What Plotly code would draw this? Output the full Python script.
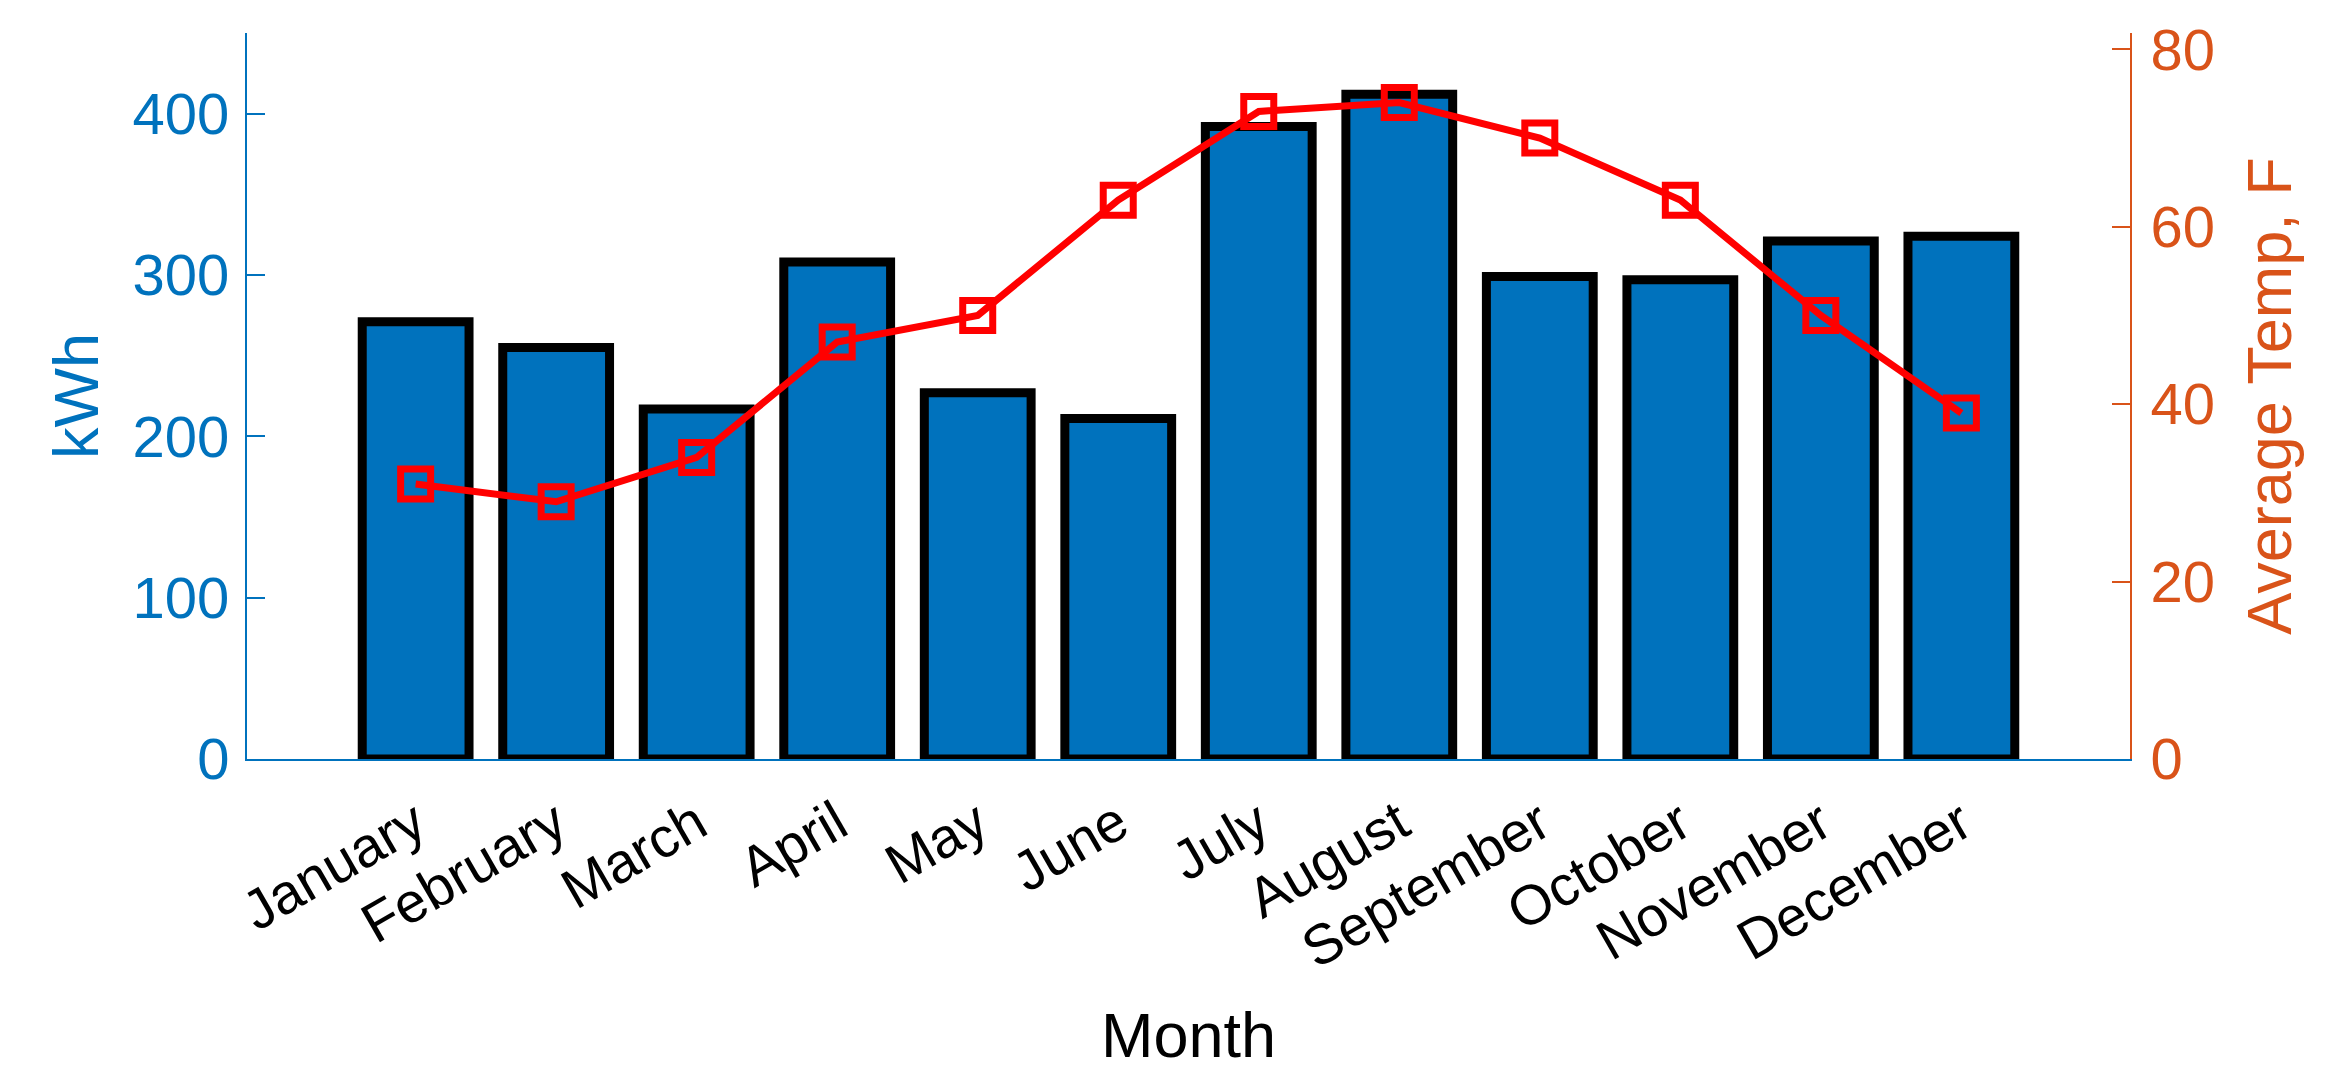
import plotly.graph_objects as go

months = ["January", "February", "March", "April", "May", "June",
          "July", "August", "September", "October", "November", "December"]
kwh = [271, 255, 217, 308, 227, 211, 392, 412, 299, 297, 321, 324]
temp_f = [31, 29, 34, 47, 50, 63, 73, 74, 70, 63, 50, 39]

left_ticks = [0, 100, 200, 300, 400]
right_ticks = [0, 20, 40, 60, 80]

BLUE = "#0072BD"
ORANGE = "#D95319"
FONT = "Liberation Sans, Arial, sans-serif"

x = list(range(len(months)))

fig = go.Figure()
fig.add_trace(go.Bar(
    x=x, y=kwh, width=0.76,
    marker=dict(color=BLUE, line=dict(color="black", width=9)),
    yaxis="y", showlegend=False,
))
fig.add_trace(go.Scatter(
    x=x, y=temp_f, mode="lines+markers",
    line=dict(color="#FF0000", width=7),
    marker=dict(symbol="square-open", size=30, color="#FF0000",
                line=dict(color="#FF0000", width=7)),
    yaxis="y2", showlegend=False,
))

# page body has an 8px default margin; margins compensate for it
fig.update_layout(
    width=2347, height=1080,
    margin=dict(l=239, r=225, t=25, b=329),
    paper_bgcolor="white", plot_bgcolor="white",
    font=dict(family=FONT, size=56, color="black"),
    xaxis=dict(
        range=[-1.2, 12.2], tickmode="array", tickvals=x, ticktext=months,
        tickangle=-30, showgrid=False, zeroline=False, automargin=False,
        showline=True, linecolor=BLUE, linewidth=2, ticks="",
        tickfont=dict(size=56, color="black"), ticklabelstandoff=8,
        title=dict(text="Month", font=dict(size=63, color="black"), standoff=34),
    ),
    yaxis=dict(
        range=[0, 450], tickvals=left_ticks, showgrid=False, zeroline=False,
        automargin=False,
        showline=True, linecolor=BLUE, linewidth=2,
        ticks="inside", ticklen=18, tickwidth=2, tickcolor=BLUE,
        tickfont=dict(size=58, color=BLUE), ticklabelstandoff=4,
        title=dict(text="kWh", font=dict(size=63, color=BLUE), standoff=14),
    ),
    yaxis2=dict(
        range=[0, 81.84], tickvals=right_ticks, overlaying="y", side="right",
        showgrid=False, zeroline=False, automargin=False,
        showline=True, linecolor=ORANGE, linewidth=2,
        ticks="inside", ticklen=18, tickwidth=2, tickcolor=ORANGE,
        tickfont=dict(size=58, color=ORANGE), ticklabelstandoff=7,
        title=dict(text="Average Temp, F", font=dict(size=63, color=ORANGE), standoff=33),
    ),
)

fig.write_html("out.html")
